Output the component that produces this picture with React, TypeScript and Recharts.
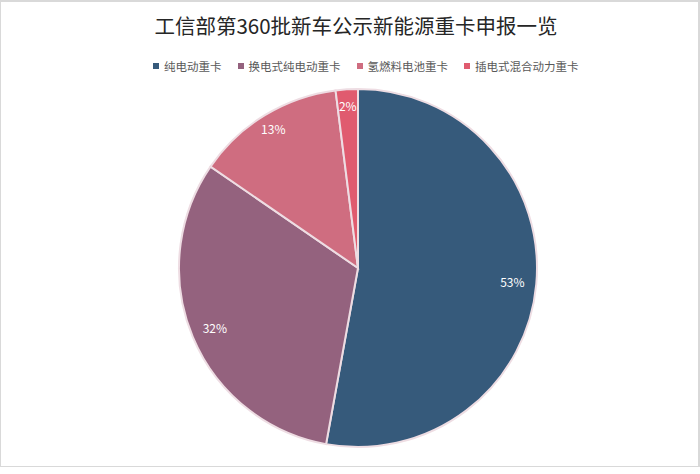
import React from "react";
import { PieChart, Pie, Cell } from "recharts";

const categories = ["纯电动重卡", "换电式纯电动重卡", "氢燃料电池重卡", "插电式混合动力重卡"];
const values = [52.8, 31.7, 13.4, 2.0];
const colors = ["#365a7b", "#94627e", "#cf6d80", "#e05b6f"];
const title = "工信部第360批新车公示新能源重卡申报一览";

const data = categories.map((name, i) => ({ name, value: values[i] }));

const FONT = '"Noto Sans CJK SC", "Noto Sans", sans-serif';
const RAD = Math.PI / 180;

const renderLabel = (props: any) => {
  const { cx, cy, midAngle, outerRadius, percent } = props;
  const r = outerRadius * (percent < 0.2 ? 0.91 : 0.866);
  const x = cx + r * Math.cos(-midAngle * RAD);
  const y = cy + r * Math.sin(-midAngle * RAD);
  return (
    <text
      x={x}
      y={y}
      fill="#ffffff"
      fontSize={12}
      fontFamily={FONT}
      textAnchor="middle"
      dominantBaseline="central"
    >
      {`${Math.round(percent * 100)}%`}
    </text>
  );
};

export default function App() {
  return (
    <div style={{ position: "fixed", left: 0, top: 0, width: 700, height: 474, background: "#fff" }}>
      <div
        style={{
          position: "absolute",
          left: 0,
          top: 0,
          width: 700,
          height: 467,
          border: "1px solid #d9d9d9",
          borderTopWidth: 2,
          borderRightWidth: 2,
          boxSizing: "border-box",
        }}
      />
      <div
        style={{
          position: "absolute",
          left: 0,
          top: 10,
          width: 712,
          textAlign: "center",
          fontFamily: FONT,
          fontSize: 20.5,
          color: "#262626",
          lineHeight: "30px",
        }}
      >
        {title}
      </div>
      <div
        style={{
          position: "absolute",
          left: 153,
          top: 58,
          display: "flex",
          fontFamily: FONT,
          fontSize: 11.5,
          color: "#595959",
          lineHeight: "16px",
          whiteSpace: "nowrap",
        }}
      >
        {categories.map((c, i) => (
          <div key={c} style={{ display: "flex", alignItems: "center", marginRight: i < categories.length - 1 ? 16 : 0 }}>
            <span
              style={{
                display: "inline-block",
                width: 6,
                height: 6,
                background: colors[i],
                marginRight: 5,
              }}
            />
            <span>{c}</span>
          </div>
        ))}
      </div>
      <div style={{ position: "absolute", left: 0, top: 0 }}>
        <PieChart width={700} height={474} margin={{ top: 0, right: 0, bottom: 0, left: 0 }}>
          <Pie
            data={data}
            dataKey="value"
            nameKey="name"
            cx={358}
            cy={268}
            outerRadius={179}
            startAngle={90}
            endAngle={-270}
            stroke="#eedde3"
            strokeWidth={2}
            label={renderLabel}
            labelLine={false}
            isAnimationActive={false}
          >
            {data.map((d, i) => (
              <Cell key={d.name} fill={colors[i]} />
            ))}
          </Pie>
        </PieChart>
      </div>
    </div>
  );
}
